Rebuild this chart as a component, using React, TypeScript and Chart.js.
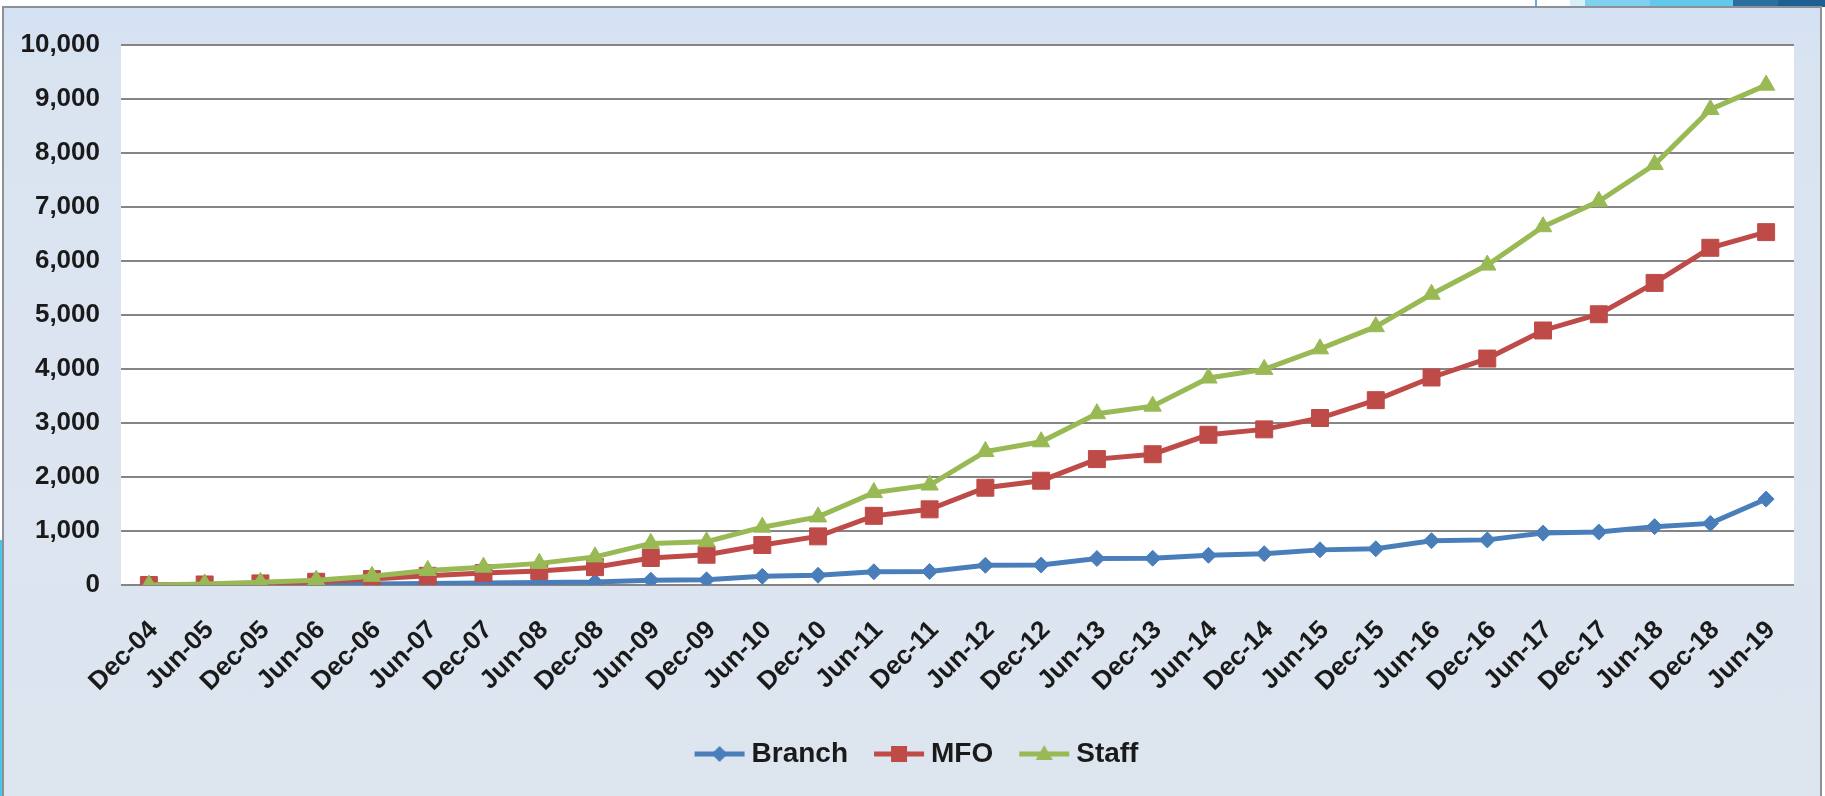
import React, { useEffect, useRef } from "react";
import { Chart, registerables } from "chart.js";

Chart.register(...registerables);

const categories = [
  "Dec-04", "Jun-05", "Dec-05", "Jun-06", "Dec-06", "Jun-07", "Dec-07", "Jun-08",
  "Dec-08", "Jun-09", "Dec-09", "Jun-10", "Dec-10", "Jun-11", "Dec-11", "Jun-12",
  "Dec-12", "Jun-13", "Dec-13", "Jun-14", "Dec-14", "Jun-15", "Dec-15", "Jun-16",
  "Dec-16", "Jun-17", "Dec-17", "Jun-18", "Dec-18", "Jun-19",
];

const branch = [
  0, 5, 10, 15, 20, 30, 35, 45, 55, 90, 95, 160, 180, 245, 250, 365,
  370, 490, 495, 550, 580, 650, 670, 820, 835, 960, 980, 1080, 1140, 1590,
];

const mfo = [
  0, 10, 30, 60, 110, 170, 220, 260, 330, 500, 560, 740, 900, 1280, 1400, 1800,
  1930, 2330, 2420, 2780, 2880, 3090, 3420, 3840, 4190, 4710, 5010, 5590, 6240, 6530,
];

const staff = [
  0, 20, 50, 90, 160, 270, 330, 400, 520, 770, 800, 1070, 1260, 1710, 1850, 2470,
  2650, 3170, 3310, 3830, 3990, 4370, 4780, 5380, 5920, 6630, 7100, 7780, 8800, 9250,
];

const seriesNames = ["Branch", "MFO", "Staff"];
const seriesColors = ["#4a7ebb", "#be4b48", "#98b954"];
const seriesMarkers = ["rectRot", "rect", "triangle"];
const markerRadius = [8, 12, 10];

const yMin = 0;
const yMax = 10000;
const yStep = 1000;

const FONT = "'Liberation Sans', Arial, sans-serif";
const LEGEND_SHIFT = -21;

function makeLegendIcon(color: string, marker: string): HTMLCanvasElement {
  const c = document.createElement("canvas");
  c.width = 52;
  c.height = 24;
  const ctx = c.getContext("2d")!;
  ctx.strokeStyle = color;
  ctx.fillStyle = color;
  ctx.lineWidth = 5;
  ctx.beginPath();
  ctx.moveTo(1, 12);
  ctx.lineTo(51, 12);
  ctx.stroke();
  ctx.beginPath();
  const cx = 26;
  const cy = 12;
  if (marker === "rectRot") {
    ctx.moveTo(cx - 8, cy);
    ctx.lineTo(cx, cy - 8);
    ctx.lineTo(cx + 8, cy);
    ctx.lineTo(cx, cy + 8);
    ctx.closePath();
  } else if (marker === "rect") {
    ctx.rect(cx - 8, cy - 8, 16, 16);
  } else {
    ctx.moveTo(cx, cy - 9);
    ctx.lineTo(cx + 8.5, cy + 6);
    ctx.lineTo(cx - 8.5, cy + 6);
    ctx.closePath();
  }
  ctx.fill();
  return c;
}

const plotBackground = {
  id: "plotBackground",
  beforeDraw(chart: any) {
    const { ctx, chartArea } = chart;
    if (!chartArea) return;
    ctx.save();
    ctx.fillStyle = "#ffffff";
    ctx.fillRect(chartArea.left, chartArea.top, chartArea.right - chartArea.left, chartArea.bottom - chartArea.top);
    ctx.restore();
  },
};

const legendShift = {
  id: "legendShift",
  afterLayout(chart: any) {
    const lg = chart.legend;
    if (lg) {
      lg.left -= LEGEND_SHIFT;
      lg.right -= LEGEND_SHIFT;
    }
  },
};

export default function App() {
  const canvasRef = useRef<HTMLCanvasElement | null>(null);

  useEffect(() => {
    if (!canvasRef.current) return;
    const seriesData = [branch, mfo, staff];
    const icons = seriesNames.map((_, i) => makeLegendIcon(seriesColors[i], seriesMarkers[i]));

    const chart = new Chart(canvasRef.current, {
      type: "line",
      data: {
        labels: categories,
        datasets: seriesNames.map((name, i) => ({
          label: name,
          data: seriesData[i],
          borderColor: seriesColors[i],
          backgroundColor: seriesColors[i],
          borderWidth: 5,
          pointStyle: seriesMarkers[i] as any,
          pointRadius: markerRadius[i],
          pointBorderWidth: 1,
          pointBackgroundColor: seriesColors[i],
          pointBorderColor: seriesColors[i],
          tension: 0,
          fill: false,
          order: 3 - i,
        })),
      },
      options: {
        animation: false,
        responsive: false,
        maintainAspectRatio: false,
        layout: { padding: { top: 32, right: 26, left: 0, bottom: 18 } },
        plugins: {
          tooltip: { enabled: false },
          legend: {
            display: true,
            position: "bottom",
            align: "center",
            labels: {
              usePointStyle: true,
              pointStyleWidth: 36,
              padding: 33,
              color: "#1a1a1a",
              font: { family: FONT, size: 28, weight: "bold" },
              generateLabels: () =>
                seriesNames.map((name, i) => ({
                  text: name,
                  fillStyle: seriesColors[i],
                  strokeStyle: seriesColors[i],
                  lineWidth: 0,
                  pointStyle: icons[i] as any,
                  hidden: false,
                  datasetIndex: i,
                  fontColor: "#1a1a1a",
                })),
            },
          },
        },
        scales: {
          x: {
            type: "category",
            offset: true,
            grid: { display: false, drawTicks: false },
            border: { display: false },
            afterFit: (axis: any) => {
              axis.height = 122;
            },
            ticks: {
              autoSkip: false,
              minRotation: 45,
              maxRotation: 45,
              padding: 30,
              labelOffset: 5,
              color: "#1a1a1a",
              font: { family: FONT, size: 26, weight: "bold" },
            },
          },
          y: {
            min: yMin,
            max: yMax,
            afterFit: (axis: any) => {
              axis.width = 117;
            },
            grid: { color: "#858585", lineWidth: 2, drawTicks: false },
            border: { display: false },
            ticks: {
              stepSize: yStep,
              padding: 21,
              color: "#1a1a1a",
              font: { family: FONT, size: 26, weight: "bold" },
              callback: (v: any) => Number(v).toLocaleString("en-US"),
            },
          },
        },
      },
      plugins: [plotBackground, legendShift],
    });
    return () => chart.destroy();
  }, []);

  return (
    <div style={{ position: "fixed", left: 0, top: 0, width: 1825, height: 796, overflow: "hidden", background: "#ffffff" }}>
      <div style={{ position: "absolute", left: 1535, top: 0, width: 2, height: 7, background: "#5ab6e0" }} />
      <div style={{ position: "absolute", left: 1570, top: 0, width: 15, height: 7, background: "#d6eff9" }} />
      <div style={{ position: "absolute", left: 1585, top: 0, width: 65, height: 7, background: "#7fd0ee" }} />
      <div style={{ position: "absolute", left: 1650, top: 0, width: 83, height: 7, background: "#62c8ec" }} />
      <div style={{ position: "absolute", left: 1733, top: 0, width: 45, height: 7, background: "#2a6fa0" }} />
      <div style={{ position: "absolute", left: 1778, top: 0, width: 47, height: 7, background: "#1e5f94" }} />
      <div style={{ position: "absolute", left: 0, top: 540, width: 2, height: 256, background: "#4cc4ea" }} />
      <div
        style={{
          position: "absolute",
          left: 2,
          top: 6,
          width: 1816,
          height: 788,
          borderTop: "2px solid #8c9097",
          borderLeft: "2px solid #8c9097",
          borderRight: "2px solid #8c9097",
          background: "linear-gradient(180deg, #d3e1f3 0%, #dae4f1 8%, #dde5ef 100%)",
        }}
      >
        <canvas ref={canvasRef} width={1816} height={788} style={{ display: "block", width: 1816, height: 788 }} />
      </div>
    </div>
  );
}
